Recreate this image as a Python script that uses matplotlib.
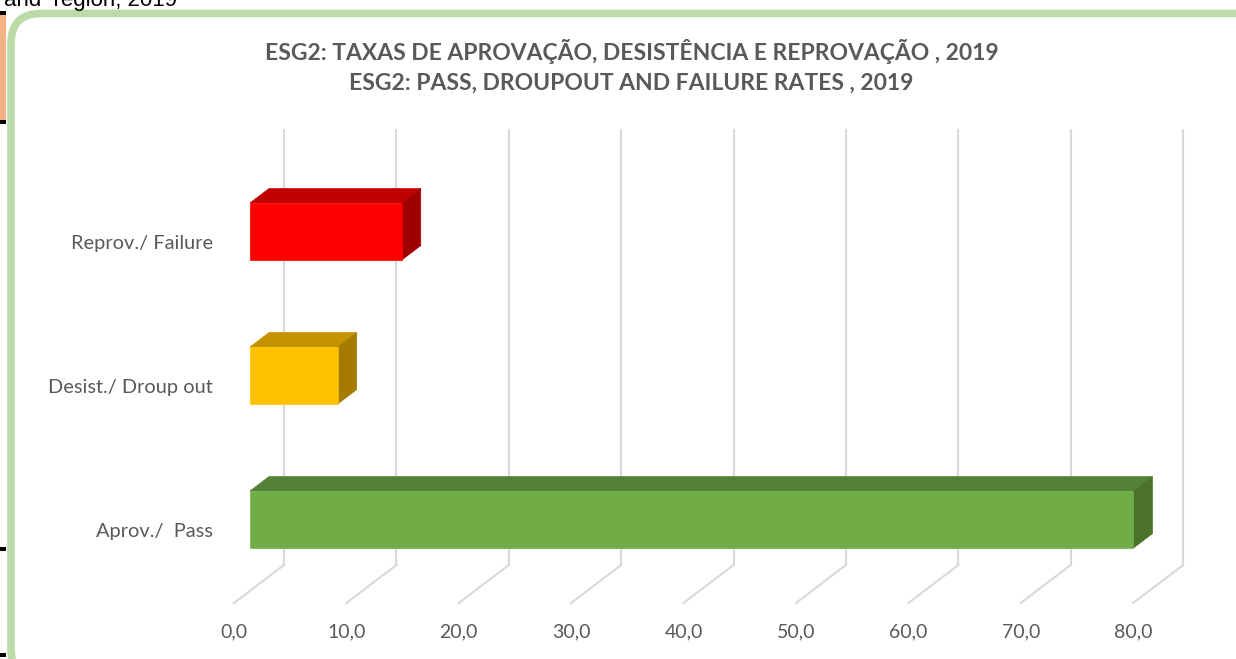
import matplotlib.pyplot as plt
from matplotlib.patches import Polygon, FancyBboxPatch, Rectangle

# dados
categorias = ['Aprov./  Pass', 'Desist./ Droup out', 'Reprov./ Failure']
valores = [78.6, 7.8, 13.5]
cor_frente = ['#70AD47', '#FFC000', '#FF0000']
cor_topo = ['#538135', '#C49300', '#C00000']
cor_lado = ['#4A7329', '#A67C00', '#A00000']
ticks = [0, 10, 20, 30, 40, 50, 60, 70, 80]
titulo = ('ESG2: TAXAS DE APROVAÇÃO, DESISTÊNCIA E REPROVAÇÃO , 2019\n'
          'ESG2: PASS, DROUPOUT AND FAILURE RATES , 2019')

plt.rcParams['font.family'] = ['Lato', 'DejaVu Sans']
cinza = '#595959'

fig = plt.figure(figsize=(12.36, 6.59), dpi=100)
ax = fig.add_axes([0, 0, 1, 1])
ax.set_xlim(-20.82, 89.15)
ax.set_ylim(-0.884, 3.692)
ax.axis('off')

# profundidade (projeção oblíqua)
DX, DY = 4.45, 0.264
piso, topo = -0.495, 2.79
d0, d1 = 0.32, 0.70
meia = 0.198

# grelha
for t in ticks:
    ax.plot([t + DX, t + DX], [piso + DY, topo], color='#D9D9D9', lw=1.5, zorder=1)
    ax.plot([t, t + DX], [piso, piso + DY], color='#D9D9D9', lw=1.5, zorder=1)
    ax.text(t, -0.697, ('%.1f' % t).replace('.', ','), ha='center', va='center',
            fontsize=14, color=cinza)

# barras 3D
for c, v in enumerate(valores):
    xa, ya = d0 * DX, c + d0 * DY
    xb, yb = d1 * DX, c + d1 * DY
    frente = [(xa, ya - meia), (v + xa, ya - meia), (v + xa, ya + meia), (xa, ya + meia)]
    cima = [(xa, ya + meia), (v + xa, ya + meia), (v + xb, yb + meia), (xb, yb + meia)]
    lado = [(v + xa, ya - meia), (v + xb, yb - meia), (v + xb, yb + meia), (v + xa, ya + meia)]
    ax.add_patch(Polygon(cima, closed=True, fc=cor_topo[c], ec=cor_topo[c], lw=0.5, zorder=3))
    ax.add_patch(Polygon(lado, closed=True, fc=cor_lado[c], ec=cor_lado[c], lw=0.5, zorder=3))
    ax.add_patch(Polygon(frente, closed=True, fc=cor_frente[c], ec=cor_frente[c], lw=0.5, zorder=4))
    ax.text(-1.87, c, categorias[c], ha='right', va='center', fontsize=14.4, color=cinza)

fig.text(0.511, 0.8995, titulo, ha='center', va='center', fontsize=16.5, fontweight='bold',
         color=cinza, linespacing=1.55)

# moldura verde
fig.patches.append(FancyBboxPatch((11, -20), 1260, 665.5, boxstyle='round,pad=0,rounding_size=30',
                                  fc='none', ec='#BDDBA9', lw=5.5, transform=None, figure=fig))

# restos da folha à esquerda
fig.patches.append(Rectangle((0, 537), 6, 110, fc='#F4B183', ec='none', transform=None, figure=fig))
for y in [644, 535, 108, 2]:
    fig.patches.append(Rectangle((0, y), 6, 4, fc='black', ec='none', transform=None, figure=fig))
fig.text(0.003, 1 - 6 / 659, 'and  region, 2019', ha='left', va='baseline', fontsize=16,
         color='black', family='Liberation Sans')

fig.savefig('out.png', dpi=100)
